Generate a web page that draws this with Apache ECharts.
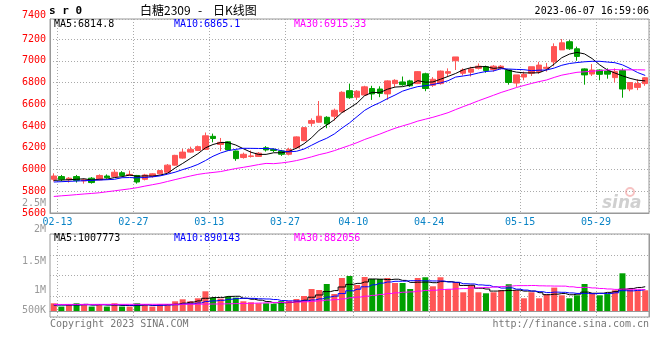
<!DOCTYPE html>
<html><head><meta charset="utf-8">
<script src="https://cdn.jsdelivr.net/npm/echarts/dist/echarts.min.js"></script>
<style>html,body{margin:0;padding:0;background:#fff}#c{width:660px;height:360px}</style>
</head><body><div id="c"></div>
<script>
// ---- data ----
const dates = [
'02-13','02-14','02-15','02-16','02-17','02-20','02-21','02-22','02-23','02-24',
'02-27','02-28','03-01','03-02','03-03','03-06','03-07','03-08','03-09','03-10',
'03-13','03-14','03-15','03-16','03-17','03-20','03-21','03-22','03-23','03-24',
'03-27','03-28','03-29','03-30','03-31','04-03','04-04','04-06','04-07',
'04-10','04-11','04-12','04-13','04-14','04-17','04-18','04-19','04-20','04-21',
'04-24','04-25','04-26','04-27','04-28','05-04','05-05','05-08','05-09','05-10','05-11','05-12',
'05-15','05-16','05-17','05-18','05-19','05-22','05-23','05-24','05-25','05-26',
'05-29','05-30','05-31','06-01','06-02','06-05','06-06','06-07'];
const tickDates = ['02-13','02-27','03-13','03-27','04-10','04-24','05-15','05-29'];
const opens = [
5910,5935,5905,5935,5895,5920,5905,5940,5935,5970,
5945,5945,5910,5935,5960,5975,6040,6105,6160,6175,
6185,6305,6230,6255,6170,6110,6120,6120,6200,6185,
6170,6140,6200,6265,6425,6435,6480,6490,6530,
6725,6665,6685,6745,6740,6695,6790,6805,6815,6790,
6880,6775,6790,6885,7000,6885,6895,6930,6945,6920,6930,6915,
6795,6850,6885,6900,6930,6990,7100,7175,7110,6925,
6878,6915,6905,6845,6910,6740,6755,6790];
const closes = [
5940,5910,5920,5900,5905,5880,5945,5925,5975,5945,
5955,5885,5950,5960,5990,6040,6130,6160,6185,6210,
6310,6285,6250,6180,6100,6140,6125,6150,6180,6175,
6140,6185,6300,6385,6450,6490,6420,6545,6710,
6660,6720,6760,6695,6700,6815,6820,6780,6770,6900,
6745,6830,6905,6900,7035,6915,6925,6950,6909,6950,6950,6800,
6870,6875,6945,6960,6940,7130,7165,7110,7040,6870,
6915,6875,6877,6900,6740,6800,6790,6844];
const lows = [
5890,5890,5880,5880,5870,5870,5900,5915,5930,5940,
5940,5870,5900,5925,5955,5970,6035,6100,6155,6170,
6180,6250,6170,6175,6080,6100,6110,6115,6165,6160,
6125,6130,6195,6260,6400,6430,6380,6450,6525,
6650,6640,6680,6640,6665,6640,6760,6770,6760,6785,
6720,6760,6780,6860,6915,6865,6855,6920,6890,6900,6920,6780,
6760,6820,6860,6880,6900,6950,7100,7100,7000,6780,
6860,6820,6835,6800,6660,6720,6730,6770];
const highs = [
5965,5950,5930,5950,5915,5930,5955,5955,6000,5985,
5990,5950,5960,5965,5995,6050,6135,6190,6210,6220,
6340,6330,6290,6260,6175,6155,6175,6160,6215,6195,
6180,6200,6305,6390,6470,6630,6490,6560,6720,
6790,6730,6770,6770,6765,6820,6830,6855,6825,6905,
6890,6850,6910,6930,7035,6930,6945,6975,6955,6960,6960,6915,
6870,6900,6945,6990,6980,7160,7200,7190,7130,6930,
6970,6920,6930,6930,6930,6800,6830,6850];
const volumes = [
320000,183000,278000,320000,278000,183000,278000,183000,320000,183000,
183000,320000,278000,183000,278000,278000,403000,486000,403000,527000,
818000,556000,515000,610000,556000,403000,361000,320000,320000,300000,
410000,415000,498000,623000,913000,872000,1121000,706000,1370000,
1453000,1079000,1411000,1328000,1328000,1370000,1162000,1162000,913000,1370000,
1400000,1025000,1400000,901000,1200000,776000,1070000,776000,735000,776000,859000,1111000,
859000,527000,776000,527000,693000,971000,652000,527000,652000,1120000,
735000,652000,703000,859000,1565000,897000,859000,859000];
// MA values before a full window exists inside the shown range
const priceMa5Head  = [5900,5903,5906,5910];
const priceMa10Head = [5885,5888,5891,5894,5897,5900,5903,5906,5910];
const priceMa30Head = [5752,5758,5763,5769,5775,5780,5786,5795,5804,5813,5822,5833,5847,5860,5873,5890,5907,5924,5940,5955,5965,5973,5981,5995,6009,6020,6032,6045,6056];
const volMa5Head  = [250000,250000,252000,252000];
const volMa10Head = [255000,255000,255000,258000,258000,258000,260000,260000,260000];
const volMa30Head = [272000,272000,273000,273000,274000,274000,275000,275000,276000,276000,277000,277000,278000,278000,279000,279000,280000,281000,282000,283000,286000,290000,295000,301000,308000,315000,322000,330000,338000];
const priceTickTop = '7400';
const volTickLabels = ['2.5M','2M','1.5M','1M','500K'];
const priceLegend = ['MA5:6814.8','MA10:6865.1','MA30:6915.33'];
const volLegend = ['MA5:1007773','MA10:890143','MA30:882056'];
const titleParts = ['白糖2309','-','日K线图'];
const symbolText = 's r 0';
const stampText = '2023-06-07 16:59:06';
const copyText = 'Copyright 2023 SINA.COM';
const urlText = 'http://finance.sina.com.cn';

// ---- helpers ----
function ma(vals, n, head) {
  return vals.map((v, i) => {
    if (i < n - 1) return head[i];
    let s = 0; for (let k = i - n + 1; k <= i; k++) s += vals[k];
    return +(s / n).toFixed(2);
  });
}
const MONO = '"DejaVu Sans Mono", "Liberation Mono", monospace';
const UP = '#ff5555', DOWN = '#00a000';
const tickSet = new Set(tickDates);
const gridLine = { show: true, lineStyle: { color: '#aaaaaa', type: [1, 2], width: 1 } };

const chart = echarts.init(document.getElementById('c'), null, { renderer: 'canvas' });

function txt(text, x, y, color, font, align) {
  return { type: 'text', silent: true, z: 100,
    style: { text, x, y, fill: color, font: font || ('10px ' + MONO), textAlign: align || 'left', textVerticalAlign: 'middle' } };
}

chart.setOption({
  animation: false,
  backgroundColor: '#ffffff',
  grid: [
    { left: 50, right: 11, top: 19, height: 194, show: true, borderColor: '#999999', borderWidth: 1, backgroundColor: 'transparent' },
    { left: 50, right: 11, top: 234, height: 83, show: true, borderColor: '#999999', borderWidth: 1, backgroundColor: 'transparent' }
  ],
  xAxis: [
    { type: 'category', gridIndex: 0, data: dates, boundaryGap: true,
      axisLine: { lineStyle: { color: '#999999' } }, axisTick: { show: false },
      axisLabel: { interval: (i, v) => tickSet.has(v), color: '#0a84c6', fontFamily: MONO, fontSize: 10, margin: 4, padding: [0, 0, 0, 7.6] },
      splitLine: Object.assign({ interval: (i) => i > 0 && tickSet.has(dates[i - 1]) }, gridLine) },
    { type: 'category', gridIndex: 1, data: dates, boundaryGap: true,
      axisLine: { lineStyle: { color: '#999999' } }, axisTick: { show: false }, axisLabel: { show: false },
      splitLine: Object.assign({ interval: (i) => i > 0 && tickSet.has(dates[i - 1]) }, gridLine) }
  ],
  yAxis: [
    { type: 'value', gridIndex: 0, min: 5600, max: 7384, interval: 200,
      axisLine: { show: true, lineStyle: { color: '#999999' } }, axisTick: { show: false },
      axisLabel: { color: '#ff0000', fontFamily: MONO, fontSize: 10, margin: 4, showMaxLabel: false, formatter: (v) => String(v) },
      splitLine: gridLine },
    { type: 'value', gridIndex: 1, min: -249000, max: 3195500,
      axisLine: { show: false }, axisTick: { show: false }, axisLabel: { show: false }, splitLine: { show: false } },
    { type: 'value', gridIndex: 1, min: 0, max: 4, interval: 1,
      axisLine: { show: true, lineStyle: { color: '#999999' } }, axisTick: { show: false }, axisLabel: { show: false }, splitLine: gridLine }
  ],
  series: [
    { type: 'candlestick', xAxisIndex: 0, yAxisIndex: 0, barWidth: 6,
      data: dates.map((d, i) => [opens[i], closes[i], lows[i], highs[i]]),
      itemStyle: { color: UP, color0: DOWN, borderColor: UP, borderColor0: DOWN, borderWidth: 1 } },
    { type: 'line', xAxisIndex: 0, yAxisIndex: 0, data: ma(closes, 5, priceMa5Head), showSymbol: false, symbol: 'none', z: 5, lineStyle: { color: '#000000', width: 1 } },
    { type: 'line', xAxisIndex: 0, yAxisIndex: 0, data: ma(closes, 10, priceMa10Head), showSymbol: false, symbol: 'none', z: 5, lineStyle: { color: '#0000ff', width: 1 } },
    { type: 'line', xAxisIndex: 0, yAxisIndex: 0, data: ma(closes, 30, priceMa30Head), showSymbol: false, symbol: 'none', z: 5, lineStyle: { color: '#ff00ff', width: 1 } },
    { type: 'bar', xAxisIndex: 1, yAxisIndex: 1, barWidth: 6,
      data: volumes.map((v, i) => ({ value: v, itemStyle: { color: closes[i] >= opens[i] ? UP : DOWN } })) },
    { type: 'line', xAxisIndex: 1, yAxisIndex: 1, step: 'middle', data: ma(volumes, 5, volMa5Head), showSymbol: false, symbol: 'none', z: 5, lineStyle: { color: '#000000', width: 1 } },
    { type: 'line', xAxisIndex: 1, yAxisIndex: 1, step: 'middle', data: ma(volumes, 10, volMa10Head), showSymbol: false, symbol: 'none', z: 5, lineStyle: { color: '#0000ff', width: 1 } },
    { type: 'line', xAxisIndex: 1, yAxisIndex: 1, step: 'middle', data: ma(volumes, 30, volMa30Head), showSymbol: false, symbol: 'none', z: 5, lineStyle: { color: '#ff00ff', width: 1 } }
  ],
  graphic: [
    txt(symbolText, 49, 11, '#000000', 'bold 11px ' + MONO),
    txt(titleParts[0], 140, 10, '#000000', '12px "Noto Sans CJK SC", sans-serif'),
    txt(titleParts[1], 198, 10, '#000000', '12px "Noto Sans CJK SC", sans-serif'),
    txt(titleParts[2], 213, 10, '#000000', '12px "Noto Sans CJK SC", sans-serif'),
    txt(stampText, 649, 11, '#000000', '10px ' + MONO, 'right'),
    txt(priceTickTop, 46, 15, '#ff0000', '10px ' + MONO, 'right'),
    txt(priceLegend[0], 54, 24, '#000000'),
    txt(priceLegend[1], 174, 24, '#0000ff'),
    txt(priceLegend[2], 294, 24, '#ff00ff'),
    txt(volLegend[0], 54, 238, '#000000'),
    txt(volLegend[1], 174, 238, '#0000ff'),
    txt(volLegend[2], 294, 238, '#ff00ff'),
    txt(volTickLabels[0], 46, 203, '#999999', '10px ' + MONO, 'right'),
    txt(volTickLabels[1], 46, 229, '#999999', '10px ' + MONO, 'right'),
    txt(volTickLabels[2], 46, 261, '#999999', '10px ' + MONO, 'right'),
    txt(volTickLabels[3], 46, 290, '#999999', '10px ' + MONO, 'right'),
    txt(volTickLabels[4], 46, 310, '#999999', '10px ' + MONO, 'right'),
    txt(copyText, 50, 324, '#777777'),
    txt(urlText, 649, 324, '#777777', '10px ' + MONO, 'right'),
    { type: 'circle', silent: true, z: 90, shape: { cx: 630, cy: 192, r: 4 }, style: { fill: 'none', stroke: 'rgba(235,120,120,0.45)', lineWidth: 2 } },
    txt('sina', 602, 204, 'rgba(150,150,150,0.45)', 'italic bold 17px "DejaVu Sans", sans-serif')
  ]
});
</script></body></html>
